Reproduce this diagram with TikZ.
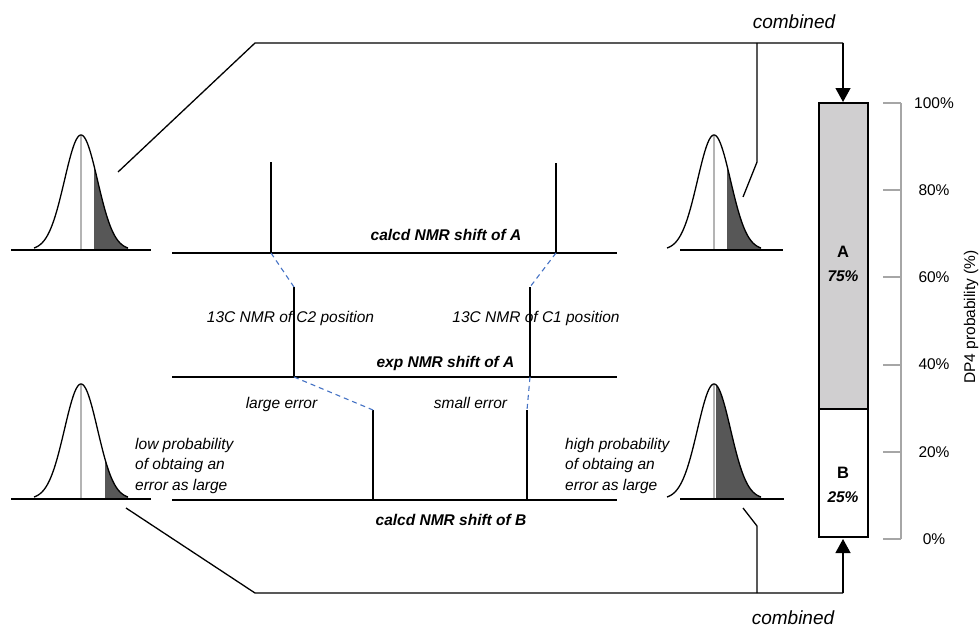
\documentclass[tikz,border=0pt]{standalone}
\usepackage{fontspec}
\setmainfont{Liberation Sans}
\usetikzlibrary{arrows.meta}
\definecolor{linkblue}{HTML}{4472C4}
\definecolor{shadegray}{HTML}{575757}
\definecolor{barfill}{HTML}{D0CFD0}
\definecolor{axisgray}{HTML}{A6A6A6}
\definecolor{midgray}{HTML}{B4B4B4}
\newcommand\bellcurve[5]{%
  \fill[shadegray] (#3,#2) -- plot[domain=#3:#1+47,samples=60] (\x,{#2-gz(\x-#1)}) -- (#1+47,#2) -- cycle;
  \draw[centerline] (#1,#2) -- (#1,#2-115);
  \draw[curve] plot[domain=#1-47:#1+47,samples=120,smooth] (\x,{#2-gz(\x-#1)});
  \draw[baseln] (#4,#2) -- (#5,#2);
}
\begin{document}
\begin{tikzpicture}[x=1pt,y=-1pt,
  declare function={gz(\t)=115*exp(-((\t)^2)/545);},
  baseln/.style={line width=2.2pt},
  curve/.style={line width=1.3pt},
  centerline/.style={midgray,line width=1.6pt},
  peakln/.style={line width=1.3pt},
  conn/.style={line width=1.3pt},
  link/.style={linkblue,line width=1.1pt,dash pattern=on 5pt off 4pt},
  tick/.style={axisgray,line width=2pt},
  arr/.style={conn,-{Triangle[width=15pt,length=14pt]}},
  txt/.style={inner sep=0pt,font=\fontsize{15.5}{18}\selectfont},
  itxt/.style={inner sep=0pt,font=\fontsize{15.5}{18}\selectfont\itshape},
  btxt/.style={inner sep=0pt,font=\fontsize{15.5}{18}\selectfont\bfseries\itshape},
  ctxt/.style={inner sep=0pt,font=\fontsize{19}{22}\selectfont\itshape},
]
\useasboundingbox (0,0) rectangle (979,626);

% bell curves
\bellcurve{81}{250}{94}{11}{151}
\bellcurve{714}{250}{727}{680}{783}
\bellcurve{81}{499}{105}{11}{151}
\bellcurve{714}{499}{716}{680}{784}

% central horizontal lines
\coordinate (aL) at (172,253); \coordinate (aR) at (617,253);
\coordinate (eL) at (172,377); \coordinate (eR) at (617,377);
\coordinate (bL) at (172,500); \coordinate (bR) at (617,500);
\draw[baseln] (aL) -- (aR);
\draw[baseln] (eL) -- (eR);
\draw[baseln] (bL) -- (bR);

% peaks
\coordinate (pa1) at (271,253); \coordinate (pa1t) at (271,162);
\coordinate (pa2) at (556,253); \coordinate (pa2t) at (556,163);
\coordinate (pe1) at (294,377); \coordinate (pe1t) at (294,287);
\coordinate (pe2) at (530,377); \coordinate (pe2t) at (530,287);
\coordinate (pb1) at (373,500); \coordinate (pb1t) at (373,410);
\coordinate (pb2) at (527,500); \coordinate (pb2t) at (527,410);
\draw[peakln] (pa1) -- (pa1t);
\draw[peakln] (pa2) -- (pa2t);
\draw[peakln] (pe1) -- (pe1t);
\draw[peakln] (pe2) -- (pe2t);
\draw[peakln] (pb1) -- (pb1t);
\draw[peakln] (pb2) -- (pb2t);

% dashed links
\draw[link] (pa1) -- (pe1t);
\draw[link] (pa2) -- (pe2t);
\draw[link] (pe1) -- (pb1t);
\draw[link] (pe2) -- (pb2t);

% combined connectors
\coordinate (tl1) at (118,172); \coordinate (tl2) at (255,43); \coordinate (tr) at (843,43);
\coordinate (tq1) at (743,197); \coordinate (tq2) at (757,162); \coordinate (tq3) at (757,43);
\coordinate (bl1) at (126,508); \coordinate (bl2) at (255,593); \coordinate (br) at (843,593);
\coordinate (bq1) at (743,508); \coordinate (bq2) at (757,526); \coordinate (bq3) at (757,593);
\coordinate (boxT) at (843,102); \coordinate (boxB) at (843,539);
\draw[conn] (tl1) -- (tl2) -- (tr);
\draw[conn] (tq1) -- (tq2) -- (tq3);
\draw[arr] (tr) -- (boxT);
\draw[conn] (bl1) -- (bl2) -- (br);
\draw[conn] (bq1) -- (bq2) -- (bq3);
\draw[arr] (br) -- (boxB);

% bar
\coordinate (boxNW) at (819,103); \coordinate (boxDiv) at (868,409);
\coordinate (boxDivL) at (819,409); \coordinate (boxSE) at (868,537);
\fill[barfill] (boxNW) rectangle (boxDiv);
\draw[conn] (boxNW) rectangle (boxSE);
\draw[conn] (boxDivL) -- (boxDiv);
\node[txt,font=\fontsize{16.5}{18}\selectfont\bfseries] (lA) at (843,252) {A};
\node[btxt] (pA) at (843,276) {75\%};
\node[txt,font=\fontsize{16.5}{18}\selectfont\bfseries] (lB) at (843,473) {B};
\node[btxt] (pB) at (843,497) {25\%};

% axis
\coordinate (ax0) at (901,539); \coordinate (ax1) at (901,103);
\draw[tick] (ax0) -- (ax1);
\foreach \k/\lab in {0/0\%,1/20\%,2/40\%,3/60\%,4/80\%,5/100\%}{
  \coordinate (t\k) at (883,{539-87.2*\k});
  \draw[tick] (t\k) -- ++(18,0);
  \node[txt] (tl\k) at (934,{539-87.2*\k}) {\lab};
}
\node[txt,rotate=90] (axlab) at (971,317) {DP4 probability (\%)};

% texts
\node[ctxt,anchor=base] (comb1) at (794,29) {combined};
\node[ctxt,anchor=base] (comb2) at (793,624) {combined};
\node[btxt,anchor=base] (calcA) at (446,240) {calcd NMR shift of A};
\node[btxt,anchor=base] (expA) at (445.5,367) {exp NMR shift of A};
\node[btxt,anchor=base] (calcB) at (451,525) {calcd NMR shift of B};
\node[itxt,anchor=base] (c2) at (290.5,322) {13C NMR of C2 position};
\node[itxt,anchor=base] (c1) at (536,322) {13C NMR of C1 position};
\node[itxt,anchor=base] (lerr) at (281.5,408) {large error};
\node[itxt,anchor=base] (serr) at (470.5,408) {small error};
\node[itxt,anchor=base west] (lp1) at (135,449) {low probability};
\node[itxt,anchor=base west] (lp2) at (135,469.5) {of obtaing an};
\node[itxt,anchor=base west] (lp3) at (135,490) {error as large};
\node[itxt,anchor=base west] (hp1) at (565,449) {high probability};
\node[itxt,anchor=base west] (hp2) at (565,469.5) {of obtaing an};
\node[itxt,anchor=base west] (hp3) at (565,490) {error as large};
\end{tikzpicture}
\end{document}
